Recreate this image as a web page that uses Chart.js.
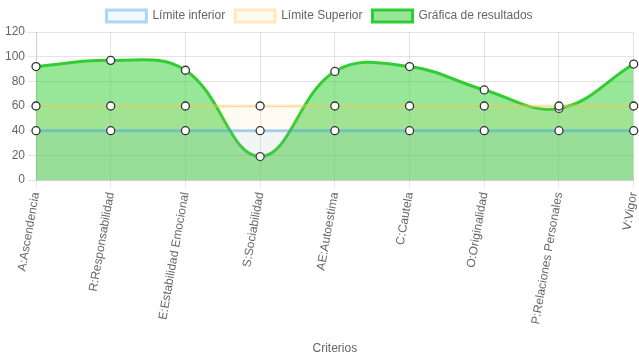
<!DOCTYPE html>
<html>
<head>
<meta charset="utf-8">
<script src="https://cdn.jsdelivr.net/npm/chart.js@4"></script>
<style>
    html, body { margin: 0; padding: 0; background: #ffffff; }
    #wrap { width: 639px; height: 360px; }
</style>
</head>
<body>
<div id="wrap"><canvas id="resultadosChart"></canvas></div>
<script>
const criterios = [
    'A:Ascendencia', 'R:Responsabilidad', 'E:Estabilidad Emocional', 'S:Sociabilidad',
    'AE:Autoestima', 'C:Cautela', 'O:Originalidad', 'P:Relaciones Personales', 'V:Vigor'
];
const limiteInferior = [40, 40, 40, 40, 40, 40, 40, 40, 40];
const limiteSuperior = [60, 60, 60, 60, 60, 60, 60, 60, 60];
const resultados = [92, 97, 89, 19, 88, 92, 73, 58, 94];

Chart.defaults.font.family = "'Liberation Sans', Arial, sans-serif";
Chart.defaults.font.size = 12;
Chart.defaults.color = '#666';

// puntos blancos con borde oscuro, igual en las tres series
const puntos = {
    pointRadius: 4,
    pointBackgroundColor: '#ffffff',
    pointBorderColor: '#333333',
    pointBorderWidth: 1.3
};

new Chart(document.getElementById('resultadosChart'), {
    type: 'line',
    data: {
        labels: criterios,
        datasets: [{
            label: 'Límite inferior',
            data: limiteInferior,
            borderColor: 'rgba(54, 162, 235, 0.4)',
            backgroundColor: 'rgba(54, 162, 235, 0.07)',
            borderWidth: 3,
            fill: 'origin',
            ...puntos
        }, {
            label: 'Límite Superior',
            data: limiteSuperior,
            borderColor: 'rgba(255, 205, 86, 0.4)',
            backgroundColor: 'rgba(255, 205, 86, 0.07)',
            borderWidth: 3,
            fill: 'origin',
            ...puntos
        }, {
            label: 'Gráfica de resultados',
            data: resultados,
            borderColor: 'rgb(50, 205, 50)',
            backgroundColor: 'rgba(50, 205, 50, 0.5)',
            borderWidth: 3,
            tension: 0.4,
            fill: 'origin',
            ...puntos
        }]
    },
    options: {
        responsive: true,
        maintainAspectRatio: false,
        animation: false,
        plugins: {
            legend: { position: 'top' }
        },
        scales: {
            x: {
                ticks: { minRotation: 80, maxRotation: 80 },
                title: { display: true, text: 'Criterios', padding: { top: 18, bottom: 4 } },
                // el último punto llega casi al borde derecho
                afterFit: (scale) => { scale.paddingRight = 2; scale.paddingLeft = 0; }
            },
            y: {
                min: 0,
                max: 120,
                ticks: { stepSize: 20 },
                afterFit: (scale) => { scale.width = 36; }
            }
        }
    }
});
</script>
</body>
</html>
